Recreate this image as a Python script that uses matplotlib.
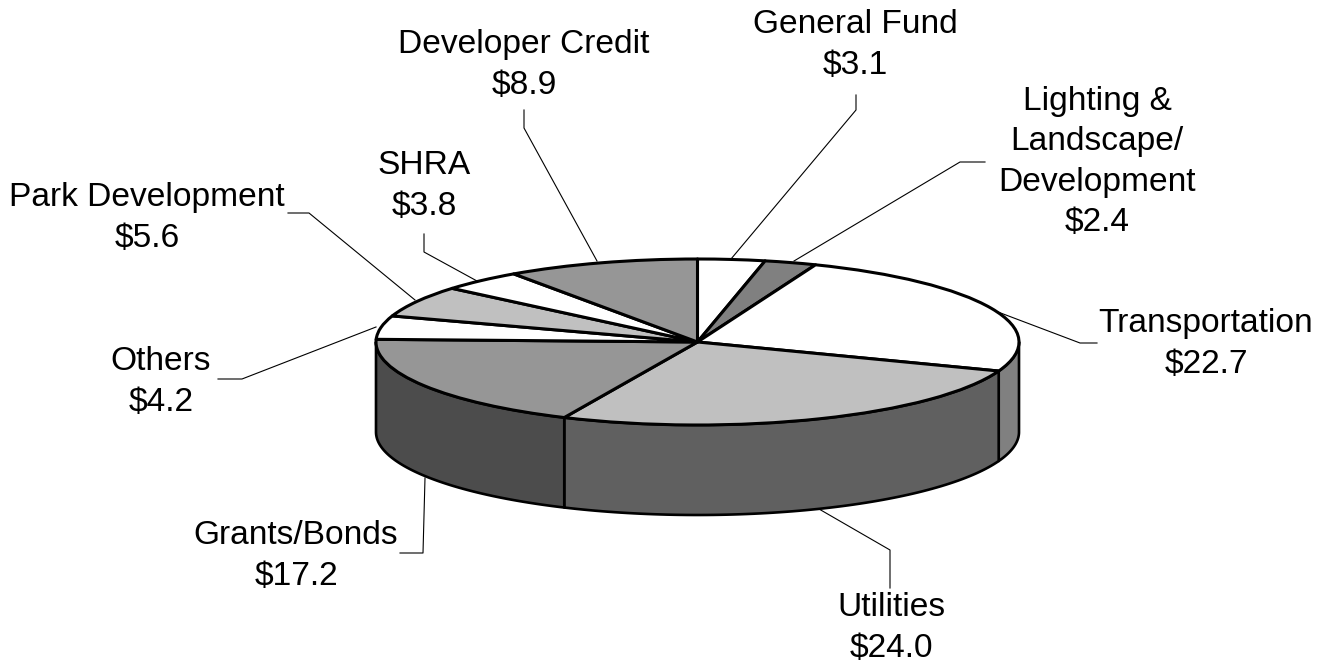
import matplotlib
matplotlib.use("Agg")
import matplotlib.pyplot as plt
import numpy as np

plt.rcParams['font.family'] = ['Liberation Sans', 'DejaVu Sans']

# Funding sources, clockwise from the top of the pie
names = ["General Fund", "Lighting &\nLandscape/\nDevelopment", "Transportation", "Utilities",
         "Grants/Bonds", "Others", "Park Development", "SHRA", "Developer Credit"]
values = [3.1, 2.4, 22.7, 24.0, 17.2, 4.2, 5.6, 3.8, 8.9]
top_colors = ["#ffffff", "#808080", "#ffffff", "#c0c0c0", "#969696",
              "#ffffff", "#c0c0c0", "#ffffff", "#969696"]
side_colors = ["#808080", "#808080", "#808080", "#606060", "#4c4c4c",
               "#808080", "#606060", "#808080", "#4c4c4c"]

# Label centres and leader lines, in picture pixels
label_pos = [(855, 45), (1097, 162), (1206, 344), (891, 628), (296, 556),
             (161, 382), (147, 218), (424, 186), (524, 65)]
leaders = [[(856, 95), (856, 110), (731, 259)],
           [(985, 162), (960, 162), (794, 261)],
           [(1097, 343), (1080, 343), (998, 312)],
           [(890, 588), (890, 550), (819, 509)],
           [(400, 553), (423, 553), (425, 478)],
           [(218, 379), (242, 379), (376, 327)],
           [(288, 213), (309, 213), (415, 300)],
           [(424, 234), (424, 252), (477, 281)],
           [(524, 110), (524, 128), (597, 261)]]

W, H = 1327, 662
cx, cy = 697.5, 342
rx, ry = 321.5, 83
depth = 90 / ry

fig = plt.figure(figsize=(W / 100, H / 100), dpi=100)

# Unit circle pie squeezed into an ellipse by the axis limits
ax = fig.add_axes([0, 0, 1, 1])

ends = np.cumsum(values) / np.sum(values) * 2 * np.pi
starts = np.r_[0, ends[:-1]]
for a, b, col in zip(starts, ends, side_colors):
    # only the front half of the rim shows
    a2, b2 = max(a, np.pi / 2), min(b, 3 * np.pi / 2)
    if a2 >= b2:
        continue
    t = np.linspace(a2, b2, 80)
    xs = np.r_[np.sin(t), np.sin(t[::-1])]
    ys = np.r_[np.cos(t), np.cos(t[::-1]) - depth]
    ax.fill(xs, ys, facecolor=col, edgecolor="black", linewidth=1.9, joinstyle="round")

ax.pie(values, colors=top_colors, startangle=90, counterclock=False, radius=1,
       wedgeprops=dict(edgecolor="black", linewidth=2.2, joinstyle="round"))
ax.set_aspect("auto")
ax.set_xlim(-cx / rx, (W - cx) / rx)
ax.set_ylim(-(H - cy) / ry, cy / ry)
ax.axis("off")

# Overlay in pixel coordinates for the labels and leader lines
over = fig.add_axes([0, 0, 1, 1])
over.set_xlim(0, W)
over.set_ylim(H, 0)
over.axis("off")
over.patch.set_alpha(0)

for name, val, pos, line in zip(names, values, label_pos, leaders):
    over.text(pos[0], pos[1], f"{name}\n${val:.1f}", ha="center", va="center",
              fontsize=24.1, linespacing=1.38, color="black")
    px, py = zip(*line)
    over.plot(px, py, color="black", linewidth=0.8)

fig.savefig("out.png", dpi=100)
